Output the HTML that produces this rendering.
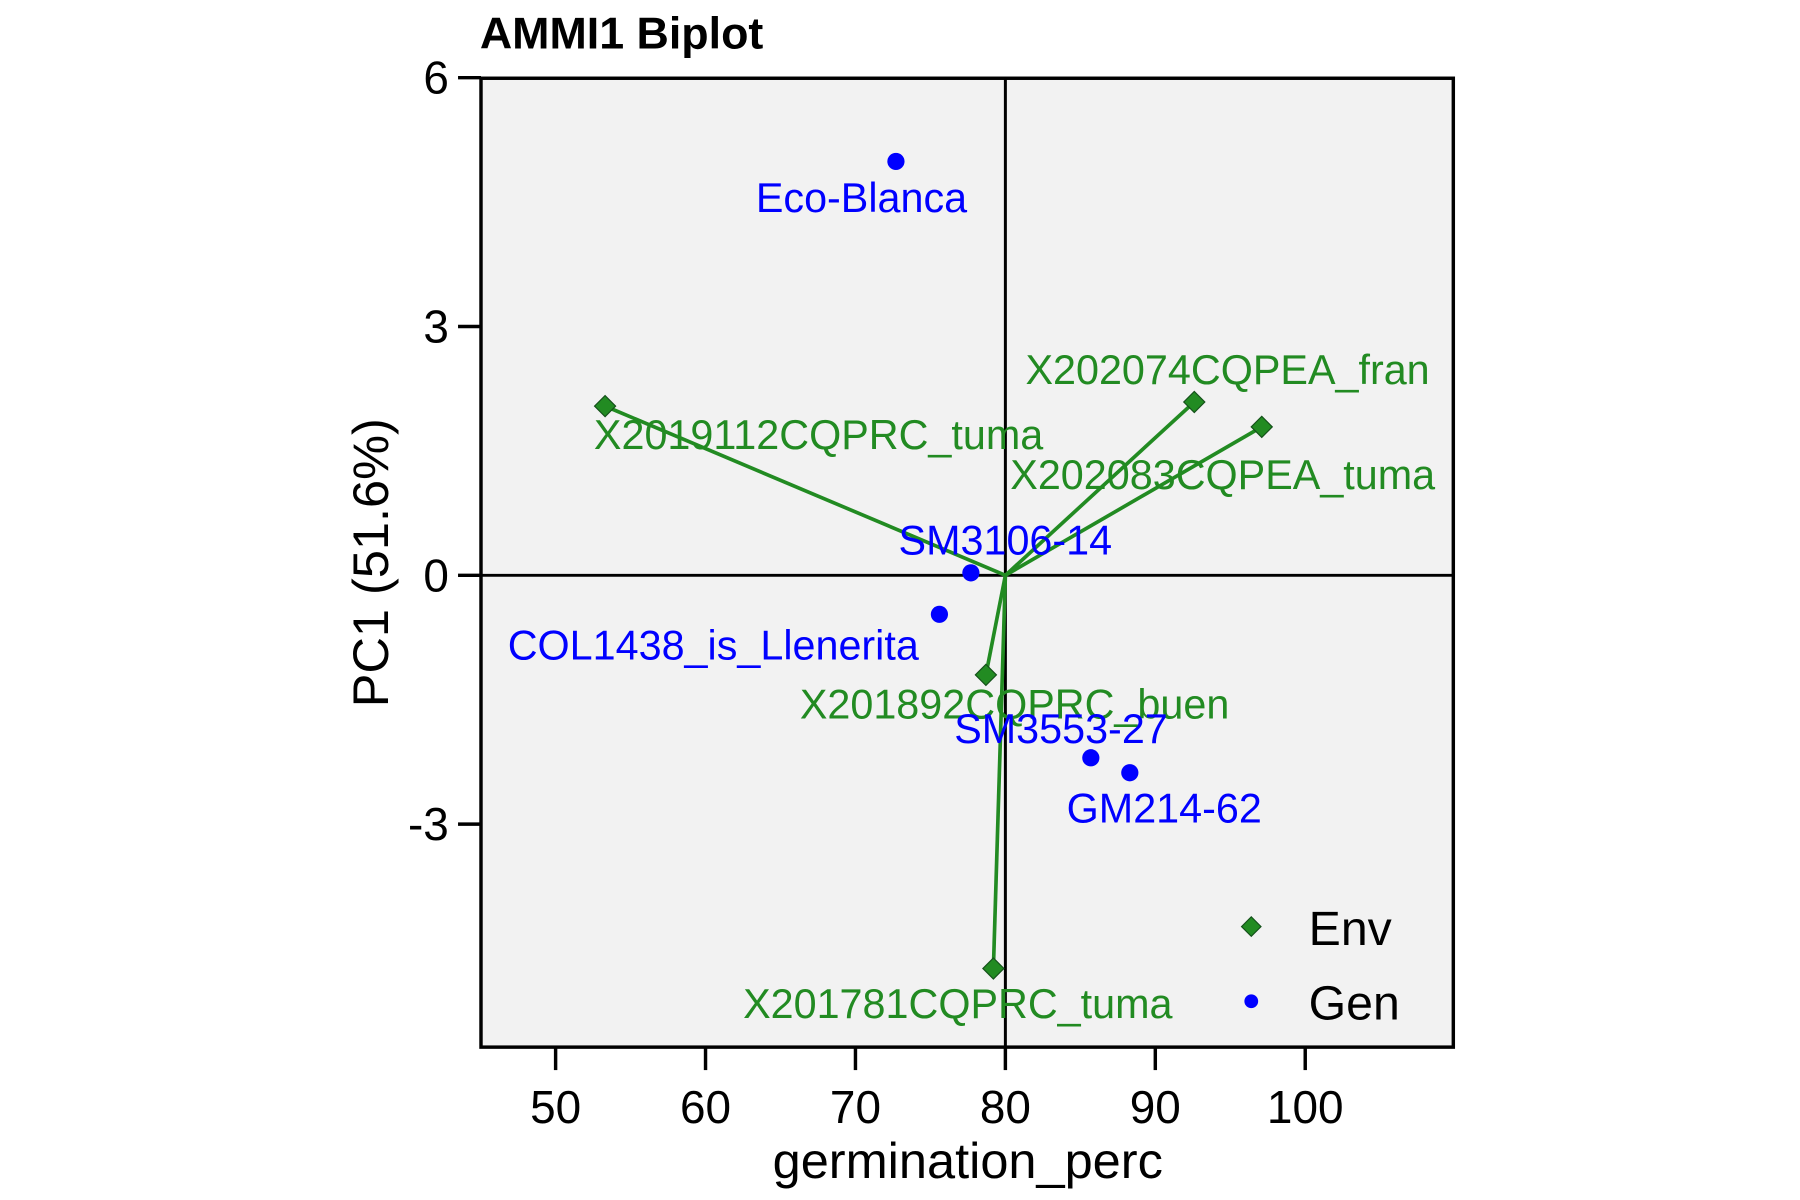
<!DOCTYPE html>
<html><head><meta charset="utf-8"><style>html,body{margin:0;padding:0;background:#fff}svg{display:block}text{font-family:"Liberation Sans",Arial,sans-serif}</style></head>
<body>
<svg id="chart" width="1800" height="1200" viewBox="0 0 1568 1045" xmlns="http://www.w3.org/2000/svg">
<rect x="0" y="0" width="1568" height="1045" fill="#fff"/>
<rect x="419" y="68" width="847" height="844" fill="#f2f2f2"/>
<g id="marks"></g>
<rect x="419" y="68" width="847" height="844" fill="none" stroke="#000" stroke-width="3"/>
<text x="418" y="42" font-size="39" font-weight="bold">AMMI1 Biplot</text>
<text x="843" y="1026" font-size="44" text-anchor="middle">germination_perc</text>
<text transform="translate(338,490) rotate(-90)" font-size="44" text-anchor="middle">PC1 (51.6%)</text>
<g>
<rect x="1084" y="801" width="12" height="12" transform="rotate(45 1090 807)" fill="#228B22" stroke="#14501a" stroke-width="1"/>
<text x="1140" y="823" font-size="42">Env</text>
<circle cx="1090" cy="872" r="6" fill="#0000ff"/>
<text x="1140" y="888" font-size="42">Gen</text>
</g>
</svg>
<script>
const xTicks=[50,60,70,80,90,100];
const yTicks=[-3,0,3,6];
const envNames=["X2019112CQPRC_tuma","X202074CQPEA_fran","X202083CQPEA_tuma","X201892CQPRC_buen","X201781CQPRC_tuma"];
const envX=[53.3,92.6,97.1,78.7,79.2];
const envY=[2.04,2.09,1.79,-1.2,-4.74];
const genNames=["Eco-Blanca","SM3106-14","COL1438_is_Llenerita","SM3553-27","GM214-62"];
const genX=[72.7,77.7,75.6,85.7,88.3];
const genY=[4.99,0.03,-0.47,-2.2,-2.38];
const originX=80, originY=0;
const envLabOff=[[186,25],[29,-28],[-34,42],[25,26],[-31,31]];
const genLabOff=[[-30,32],[30,-28],[-197,27],[-26,-25],[30,31]];
const NS="http://www.w3.org/2000/svg";
const sx=v=>484+(v-50)*13.06;
const sy=v=>501-v*72.25;
const svg=document.getElementById('chart');
const g=document.getElementById('marks');
function mk(tag,attrs,parent){const e=document.createElementNS(NS,tag);for(const k in attrs)e.setAttribute(k,attrs[k]);(parent||g).appendChild(e);return e;}
let e;
e=mk('line',{x1:sx(originX),x2:sx(originX),y1:68,y2:912,stroke:'#000','stroke-width':2.6});


e=mk('line',{x1:419,x2:1266,y1:sy(originY),y2:sy(originY),stroke:'#000','stroke-width':2.6});


xTicks.forEach(t=>{
 e=mk('line',{x1:sx(t),x2:sx(t),y1:912,y2:932,stroke:'#000','stroke-width':3},svg);
 
 
 e=mk('text',{x:sx(t),y:978,'font-size':40,'text-anchor':'middle'},svg);e.textContent=t;
 
 
});
yTicks.forEach(t=>{
 e=mk('line',{x1:399,x2:419,y1:sy(t),y2:sy(t),stroke:'#000','stroke-width':3},svg);
 
 
 e=mk('text',{x:391,y:sy(t)+14,'font-size':40,'text-anchor':'end'},svg);e.textContent=t;
 
 
});
envNames.forEach((n,i)=>{
 e=mk('line',{x1:sx(originX),y1:sy(originY),x2:sx(envX[i]),y2:sy(envY[i]),stroke:'#228B22','stroke-width':3.2});
 
 
});
envNames.forEach((n,i)=>{
 const x=sx(envX[i]),y=sy(envY[i]);
 e=mk('rect',{x:x-6.5,y:y-6.5,width:13,height:13,transform:`rotate(45 ${x} ${y})`,fill:'#228B22',stroke:'#14501a','stroke-width':1});
 
 
 e=mk('text',{x:x+envLabOff[i][0],y:y+envLabOff[i][1],'font-size':36,'text-anchor':'middle','dominant-baseline':'central',fill:'#228B22'});e.textContent=n;
 
 
});
genNames.forEach((n,i)=>{
 const x=sx(genX[i]),y=sy(genY[i]);
 e=mk('circle',{cx:x,cy:y,r:7.5,fill:'#0000ff'});
 
 
 e=mk('text',{x:x+genLabOff[i][0],y:y+genLabOff[i][1],'font-size':36,'text-anchor':'middle','dominant-baseline':'central',fill:'#0000ff'});e.textContent=n;
 
 
});
</script>
</body></html>
